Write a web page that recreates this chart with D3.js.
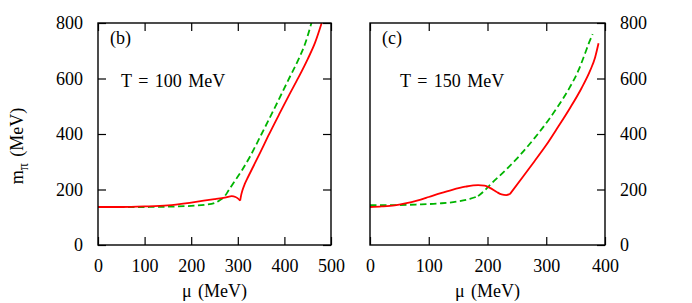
<!DOCTYPE html>
<html>
<head>
<meta charset="utf-8">
<script src="https://cdn.jsdelivr.net/npm/d3@7"></script>
<style>
  body { margin: 0; background: #fff; }
  svg text { font-family: "Liberation Serif", "DejaVu Serif", serif; fill: #000; }
</style>
</head>
<body>
<div id="chart"></div>
<script>
// panel (b), T = 100 MeV
var bRedMu = [0, 50, 100, 150, 200, 250, 275, 287, 295, 300, 305, 307, 310, 315, 322, 333, 348, 365, 390, 410, 430, 450, 466, 480]
var bRedM  = [137, 137, 139, 143, 153, 165, 172, 176, 173, 168, 160, 178, 197, 220, 245, 282, 333, 392, 475, 540, 603, 670, 730, 800]
var bRedBreak = 305
var bGreenMu = [0, 50, 100, 150, 200, 230, 250, 262, 272, 280, 290, 310, 326, 351, 380, 410, 430, 445, 458]
var bGreenM  = [137, 137, 137, 138, 141, 145, 151, 162, 176, 196, 222, 272, 318, 400, 497, 600, 668, 728, 800]

// panel (c), T = 150 MeV
var cRedMu = [0, 20, 42, 60, 80, 100, 119, 140, 162, 184, 195, 204, 215, 224, 232, 238, 260, 280, 300, 320, 340, 360, 375, 383, 389]
var cRedM  = [137, 139, 143, 150, 160, 173, 186, 199, 210, 216, 214, 206, 192, 182, 180, 183, 245, 302, 360, 425, 492, 565, 630, 675, 727]
var cRedBreak = 238
var cGreenMu = [0, 40, 80, 119, 150, 170, 184, 195, 204, 230, 255, 280, 303, 320, 340, 355, 366, 373, 379]
var cGreenM  = [144, 144, 146, 150, 157, 166, 176, 196, 216, 268, 323, 385, 448, 500, 568, 630, 690, 730, 760]
var cGreenBreak = 184

var yTicks = [0, 200, 400, 600, 800]
var bXTicks = [0, 100, 200, 300, 400, 500]
var cXTicks = [0, 100, 200, 300, 400]

var W = 692, H = 303
var svg = d3.select('#chart').append('svg').attr('width', W).attr('height', H)

function pairs(mu, m) {
    return mu.map(function (d, i) { return [d, m[i]] })
}

// split a series at a cusp so the corner stays sharp
function pieces(mu, m, brk) {
    var pts = pairs(mu, m)
    if (brk == undefined) return [pts]
    return [pts.filter(p => p[0] <= brk), pts.filter(p => p[0] >= brk)]
}

function drawPanel(opt) {
    var x = d3.scaleLinear().domain(opt.xDomain).range([opt.left, opt.right])
    var y = d3.scaleLinear().domain([0, 800]).range([245, 23])
    var g = svg.append('g')

    var clipId = 'clip-' + opt.name
    svg.append('clipPath').attr('id', clipId).append('rect')
        .attr('x', opt.left).attr('y', 23).attr('width', opt.right - opt.left).attr('height', 222)

    var line = d3.line().x(d => x(d[0])).y(d => y(d[1])).curve(d3.curveMonotoneX)

    var curves = g.append('g').attr('clip-path', 'url(#' + clipId + ')')
    pieces(opt.greenMu, opt.greenM, opt.greenBreak).forEach(function (p) {
        curves.append('path').attr('d', line(p)).attr('fill', 'none')
            .attr('stroke', '#00b400').attr('stroke-width', 1.8).attr('stroke-dasharray', '6.5,3.5')
    })
    pieces(opt.redMu, opt.redM, opt.redBreak).forEach(function (p) {
        curves.append('path').attr('d', line(p)).attr('fill', 'none')
            .attr('stroke', '#ff0000').attr('stroke-width', 1.8)
    })

    var fontSize = '18px'
    g.append('g').attr('transform', 'translate(0,245)')
        .call(d3.axisBottom(x).tickValues(opt.xTicks).tickSize(-8).tickSizeOuter(0).tickPadding(14))
    g.append('g').attr('transform', 'translate(0,23)')
        .call(d3.axisTop(x).tickValues(opt.xTicks).tickSize(-8).tickSizeOuter(0).tickFormat(''))
    if (opt.labelsLeft) {
        g.append('g').attr('transform', 'translate(' + opt.left + ',0)')
            .call(d3.axisLeft(y).tickValues(yTicks).tickSize(-8).tickSizeOuter(0).tickPadding(15))
        g.append('g').attr('transform', 'translate(' + opt.right + ',0)')
            .call(d3.axisRight(y).tickValues(yTicks).tickSize(-8).tickSizeOuter(0).tickFormat(''))
    } else {
        g.append('g').attr('transform', 'translate(' + opt.right + ',0)')
            .call(d3.axisRight(y).tickValues(yTicks).tickSize(-8).tickSizeOuter(0).tickPadding(15))
    }
    g.selectAll('.domain').remove()
    g.selectAll('.tick line').attr('stroke', '#000').attr('stroke-width', 1.2)
    g.selectAll('.tick text').style('font-size', fontSize).attr('font-family', null)

    g.append('rect').attr('x', opt.left).attr('y', 23)
        .attr('width', opt.right - opt.left).attr('height', 222)
        .attr('fill', 'none').attr('stroke', '#000').attr('stroke-width', 1.4)

    g.append('text').attr('x', opt.left + 12).attr('y', 44).style('font-size', fontSize).text(opt.tag)
    g.append('text').attr('x', opt.left + opt.tLabelDx).attr('y', 87).style('font-size', fontSize)
        .style('word-spacing', '2px').text(opt.tLabel)

    g.append('text').attr('x', (opt.left + opt.right) / 2).attr('y', 297)
        .attr('text-anchor', 'middle').style('font-size', fontSize)
        .style('word-spacing', '2px').text('\u03bc (MeV)')
}

drawPanel({
    name: 'b', left: 98, right: 331, xDomain: [0, 500], xTicks: bXTicks, labelsLeft: true,
    redMu: bRedMu, redM: bRedM, redBreak: bRedBreak,
    greenMu: bGreenMu, greenM: bGreenM,
    tag: '(b)', tLabel: 'T = 100 MeV', tLabelDx: 23
})
drawPanel({
    name: 'c', left: 370, right: 605, xDomain: [0, 400], xTicks: cXTicks, labelsLeft: false,
    redMu: cRedMu, redM: cRedM, redBreak: cRedBreak,
    greenMu: cGreenMu, greenM: cGreenM, greenBreak: cGreenBreak,
    tag: '(c)', tLabel: 'T = 150 MeV', tLabelDx: 30
})

// y axis title with subscript pi
var yTitle = svg.append('text')
    .attr('transform', 'translate(23,146) rotate(-90)')
    .attr('text-anchor', 'middle').style('font-size', '18px')
yTitle.append('tspan').text('m')
yTitle.append('tspan').attr('dy', 5).style('font-size', '14px').text('\u03c0')
yTitle.append('tspan').attr('dy', -5).style('word-spacing', '2px').text(' (MeV)')
</script>
</body>
</html>
